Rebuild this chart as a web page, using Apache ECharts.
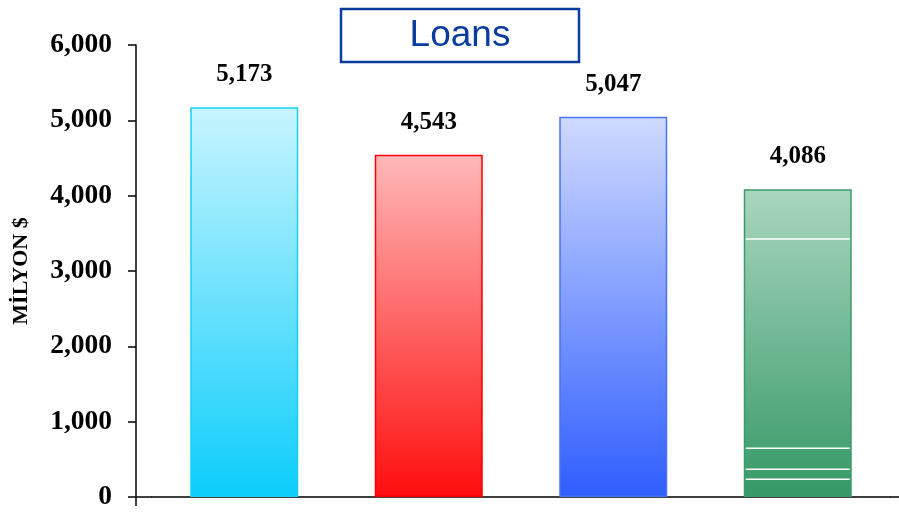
<!DOCTYPE html>
<html>
<head>
<meta charset="utf-8">
<script src="https://cdn.jsdelivr.net/npm/echarts@6/dist/echarts.min.js"></script>
<style>
  html, body { margin: 0; padding: 0; background: #ffffff; }
  #chart { width: 899px; height: 512px; }
</style>
</head>
<body>
<div id="chart"></div>
<script>
// Loan totals (million $) for the four periods
const categories = ['1', '2', '3', '4'];
const loanValues = [5173, 4543, 5047, 4086];
// Segment boundaries inside the last bar
const segmentBreaks = [235, 368, 646, 3425];
const yTicks = [0, 1000, 2000, 3000, 4000, 5000, 6000];

const barStyles = [
  { top: '#c8f5ff', bottom: '#0ccdfb', border: '#19cff8' },
  { top: '#ffb8b8', bottom: '#ff0d0d', border: '#ff0000' },
  { top: '#cfdaff', bottom: '#2f5dff', border: '#4a72f2' },
  { top: '#a9d6be', bottom: '#359866', border: '#3a9c6a' }
];

const serifBold = { fontFamily: 'Liberation Serif', fontWeight: 'bold', color: '#000000' };
const fmt = v => Number(v).toLocaleString('en-US');

const chart = echarts.init(document.getElementById('chart'), null, { renderer: 'canvas' });

const barData = loanValues.map((v, i) => ({
  value: v,
  itemStyle: {
    color: new echarts.graphic.LinearGradient(0, 0, 0, 1, [
      { offset: 0, color: barStyles[i].top },
      { offset: 1, color: barStyles[i].bottom }
    ]),
    borderColor: barStyles[i].border,
    borderWidth: 1.5
  }
}));

const option = {
  animation: false,
  backgroundColor: '#ffffff',
  grid: { left: 152, right: 9, top: 45, bottom: 15 },
  xAxis: {
    type: 'category',
    data: categories,
    axisLine: { show: true, lineStyle: { color: '#000000', width: 1.5 } },
    axisTick: { show: false },
    axisLabel: { show: false },
    splitLine: { show: false }
  },
  yAxis: {
    type: 'value',
    min: yTicks[0],
    max: yTicks[yTicks.length - 1],
    interval: yTicks[1] - yTicks[0],
    offset: 16,
    name: 'MİLYON $',
    nameLocation: 'middle',
    nameRotate: 90,
    nameGap: 104,
    nameTextStyle: Object.assign({ fontSize: 22 }, serifBold),
    axisLine: { show: true, lineStyle: { color: '#000000', width: 1.5 } },
    axisTick: { show: true, inside: false, length: 8, lineStyle: { color: '#000000', width: 1.5 } },
    axisLabel: Object.assign({ fontSize: 27.5, margin: 24, formatter: fmt }, serifBold),
    splitLine: { show: false }
  },
  series: [
    {
      type: 'bar',
      data: barData,
      barWidth: 108,
      label: Object.assign({
        show: true,
        position: 'top',
        distance: 20,
        fontSize: 25,
        formatter: p => fmt(p.value)
      }, serifBold),
      z: 2
    },
    {
      type: 'custom',
      data: segmentBreaks.map(v => [3, v]),
      renderItem: function (params, api) {
        const pt = api.coord([api.value(0), api.value(1)]);
        const half = 52;
        return {
          type: 'line',
          shape: { x1: pt[0] - half, y1: pt[1], x2: pt[0] + half, y2: pt[1] },
          style: { stroke: '#ffffff', lineWidth: 1.5 }
        };
      },
      z: 3,
      silent: true
    }
  ]
};

chart.setOption(option);

// Title box and the short axis-line extensions at both ends of the baseline
const zeroY = chart.convertToPixel({ yAxisIndex: 0 }, 0);
const gridLeft = 152, axisX = 136, gridRight = 890, pageRight = 899;
chart.setOption({
  graphic: [
    {
      type: 'rect',
      shape: { x: 341, y: 9, width: 238, height: 53 },
      style: { fill: '#ffffff', stroke: '#0a3ca0', lineWidth: 2.5 },
      z: 10
    },
    {
      type: 'text',
      x: 460, y: 36,
      style: {
        text: 'Loans',
        fill: '#0a3ca0',
        font: '37px "Liberation Sans", Arial, sans-serif',
        textAlign: 'center',
        textVerticalAlign: 'middle'
      },
      z: 11
    },
    {
      type: 'line',
      shape: { x1: axisX, y1: zeroY, x2: gridLeft, y2: zeroY },
      style: { stroke: '#000000', lineWidth: 1.5 },
      z: 5
    },
    {
      type: 'line',
      shape: { x1: gridRight, y1: zeroY, x2: pageRight, y2: zeroY },
      style: { stroke: '#000000', lineWidth: 1.5 },
      z: 5
    },
    {
      type: 'line',
      shape: { x1: axisX, y1: zeroY, x2: axisX, y2: zeroY + 9 },
      style: { stroke: '#000000', lineWidth: 1.5 },
      z: 5
    }
  ]
});
</script>
</body>
</html>
